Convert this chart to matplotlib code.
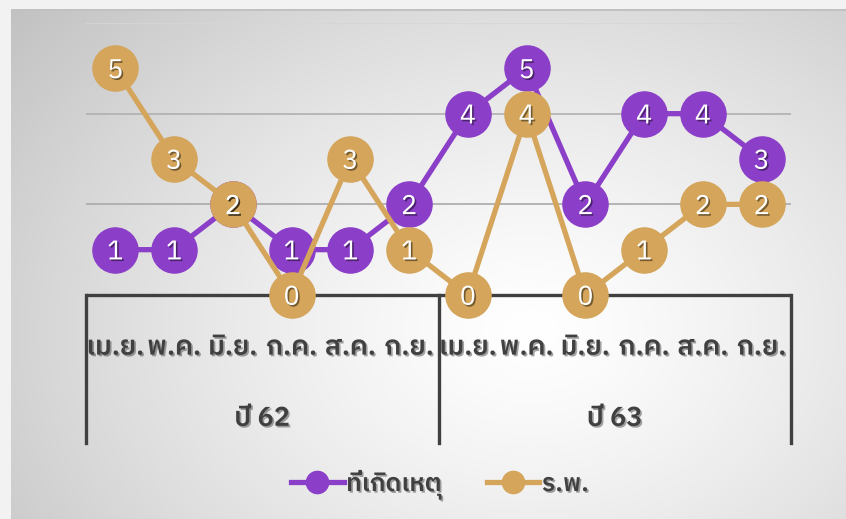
import numpy as np
import matplotlib
matplotlib.use("Agg")
import matplotlib.pyplot as plt
import matplotlib.patheffects as pe
from matplotlib import font_manager as fm
from matplotlib.ft2font import FT2Font
from matplotlib.lines import Line2D

# ==== DATA ====
months = ["เม.ย.", "พ.ค.", "มิ.ย.", "ก.ค.", "ส.ค.", "ก.ย.",
          "เม.ย.", "พ.ค.", "มิ.ย.", "ก.ค.", "ส.ค.", "ก.ย."]
years = ["ปี 62", "ปี 63"]
scene = [1, 1, 2, 1, 1, 2, 4, 5, 2, 4, 4, 3]      # ที่เกิดเหตุ
hospital = [5, 3, 2, 0, 3, 1, 0, 4, 0, 1, 2, 2]   # ร.พ.
series_names = ["ที่เกิดเหตุ", "ร.พ."]

PURPLE = "#8b3fc8"
GOLD = "#d4a55a"
DARK = "#404040"

# ==== FONT: find something that has Thai glyphs ====
thai_fonts = []
for f in fm.fontManager.ttflist:
    try:
        if 0x0E01 in FT2Font(f.fname).get_charmap():
            thai_fonts.append(f.name)
    except Exception:
        pass
prefer = [n for n in thai_fonts if "Thai" in n and "Looped" not in n and "Serif" not in n]
thai = (prefer or thai_fonts or ["DejaVu Sans"])[0]
plt.rcParams["font.family"] = [thai, "DejaVu Sans"]

W, H = 846, 519
fig = plt.figure(figsize=(W / 100, H / 100), dpi=100)

# ==== BACKGROUND (radial grey gradient panel) ====
bg = fig.add_axes([0, 0, 1, 1], zorder=-5)
yy, xx = np.mgrid[0:H, 0:W]
r = np.sqrt(((xx - 530) / 560.0) ** 2 + ((yy - 330) / 420.0) ** 2)
val = 1.0 - 0.19 * np.clip(r, 0, 1.2) ** 1.3
img = np.dstack([val, val, val])
img[:9, :, :] = 0.95
img[:, :11, :] = 0.95
img[9:11, 11:, :] = 0.76
bg.imshow(img, aspect="auto", extent=[0, W, H, 0], interpolation="bilinear")
bg.set_xlim(0, W)
bg.set_ylim(H, 0)
bg.axis("off")

# ==== MAIN AXES ====
x0, x1 = 86, 791
y_zero, y_top = 295, 23
ax = fig.add_axes([x0 / W, (H - y_zero) / H, (x1 - x0) / W, (y_zero - y_top) / H])
ax.patch.set_alpha(0)
x = np.arange(len(months))
ax.set_xlim(-0.5, len(months) - 0.5)
ax.set_ylim(0, 6)
for s in ax.spines.values():
    s.set_visible(False)
ax.set_xticks([])
ax.set_yticks([])

for g, c in [(2, "#a9a9a9"), (4, "#b0b0b0"), (6, "#d6d6d6")]:
    ax.axhline(g, color=c, lw=1.2, zorder=1)

# category axis (two levels)
ax.plot([-0.5, len(months) - 0.5], [0, 0], color=DARK, lw=2.4, zorder=2,
        solid_capstyle="butt", clip_on=False)
for bx in [-0.5, 5.5, 11.5]:
    ax.plot([bx, bx], [0, -3.27], color=DARK, lw=2.4, zorder=2, clip_on=False)

txt_shadow = [pe.SimplePatchShadow(offset=(1.2, -1.2), shadow_rgbFace="black", alpha=0.35), pe.Normal()]
for i, m in enumerate(months):
    ax.text(i, -1.15, m, ha="center", va="center", fontsize=19.5, color=DARK,
            fontweight="semibold", path_effects=txt_shadow, clip_on=False)
for j, yl in enumerate(years):
    ax.text(2.5 + 6 * j, -2.72, yl, ha="center", va="center", fontsize=19.5, color=DARK,
            fontweight="semibold", path_effects=txt_shadow, clip_on=False)

# ==== SERIES ====
lbl_shadow = [pe.SimplePatchShadow(offset=(1.2, -1.2), shadow_rgbFace="black", alpha=0.45), pe.Normal()]
for vals, col, z in [(scene, PURPLE, 3), (hospital, GOLD, 4)]:
    ax.plot(x, vals, color=col, lw=3.8, marker="o", markersize=32.5,
            markerfacecolor=col, markeredgecolor=col, zorder=z, clip_on=False)
for vals in [scene, hospital]:
    for xi, v in zip(x, vals):
        ax.text(xi, v - 0.05, str(v), ha="center", va="center", fontsize=19.5,
                color="white", zorder=10, path_effects=lbl_shadow, clip_on=False)

# ==== LEGEND ====
handles = [Line2D([], [], color=PURPLE, lw=3.8, marker="o", markersize=16),
           Line2D([], [], color=GOLD, lw=3.8, marker="o", markersize=16)]
leg = fig.legend(handles, series_names, loc="center", bbox_to_anchor=(440 / W, 1 - 485 / H),
                 ncol=2, frameon=False, handlelength=2.1, handletextpad=0.1,
                 columnspacing=1.8, prop={"weight": "semibold", "size": 18})
for t in leg.get_texts():
    t.set_color(DARK)
    t.set_path_effects(txt_shadow)

fig.savefig("out.png", dpi=100)
